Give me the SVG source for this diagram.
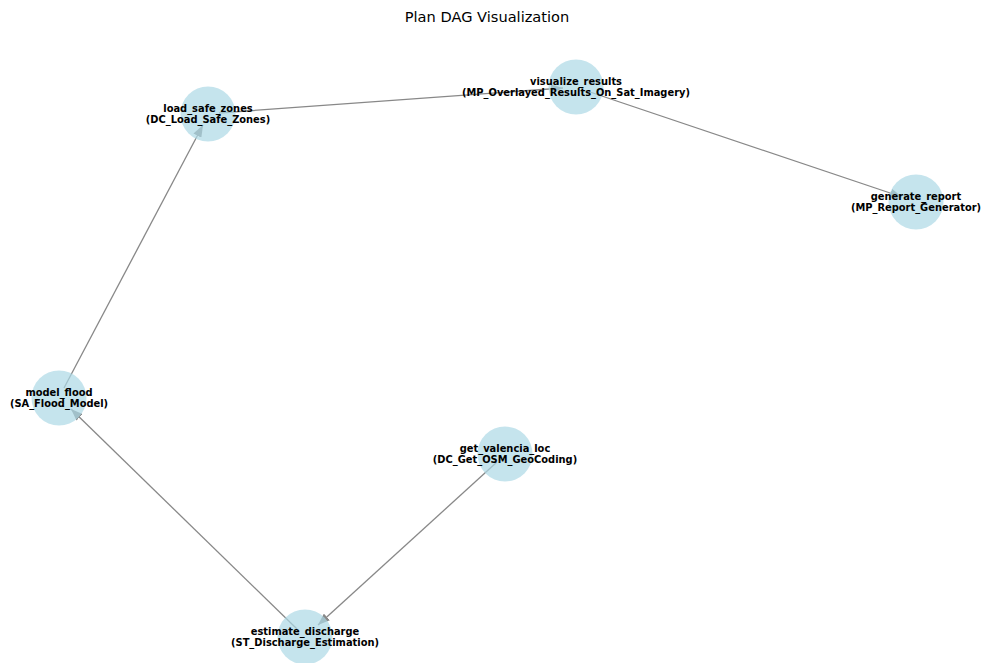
<svg xmlns="http://www.w3.org/2000/svg" width="983" height="663" viewBox="0 0 983 663">
  <style>
    .title { font-family: "DejaVu Sans", sans-serif; font-size: 14.6px; fill: #000; }
    .edge { stroke: #888888; stroke-width: 1.3; fill: none; }
    .node circle { fill: #add8e6; fill-opacity: 0.7; }
    .node text { font-family: "DejaVu Sans", sans-serif; font-weight: bold; font-size: 9.9px; fill: #000; text-anchor: middle; }
  </style>
  <defs>
    <marker id="arrow" viewBox="0 0 12 9" refX="12" refY="4.5" markerWidth="12" markerHeight="9" markerUnits="userSpaceOnUse" orient="auto">
      <path d="M0,0 L12,4.5 L0,9 Z" fill="#888888"/>
    </marker>
  </defs>
  <rect width="983" height="663" fill="#fff"/>
  <text class="title" x="487" y="22" text-anchor="middle">Plan DAG Visualization</text>

  <g id="edges">
    <!-- get_valencia_loc -> estimate_discharge -->
    <line class="edge" x1="497" y1="462" x2="318" y2="625" marker-end="url(#arrow)"/>
    <!-- estimate_discharge -> model_flood -->
    <line class="edge" x1="297" y1="629" x2="71" y2="409" marker-end="url(#arrow)"/>
    <!-- model_flood -> load_safe_zones -->
    <line class="edge" x1="64" y1="388" x2="203" y2="125" marker-end="url(#arrow)"/>
    <!-- load_safe_zones -> visualize_results -->
    <line class="edge" x1="219" y1="113" x2="563" y2="88" marker-end="url(#arrow)"/>
    <!-- visualize_results -> generate_report -->
    <line class="edge" x1="587" y1="91" x2="902" y2="197" marker-end="url(#arrow)"/>
  </g>

  <g id="load_safe_zones" class="node">
    <circle cx="208" cy="114" r="27.5"/>
    <text x="208" y="112">load_safe_zones</text>
    <text x="208" y="122.5">(DC_Load_Safe_Zones)</text>
  </g>
  <g id="visualize_results" class="node">
    <circle cx="576" cy="87" r="27.5"/>
    <text x="576" y="85">visualize_results</text>
    <text x="576" y="95.5">(MP_Overlayed_Results_On_Sat_Imagery)</text>
  </g>
  <g id="generate_report" class="node">
    <circle cx="916" cy="202" r="27.5"/>
    <text x="916" y="200">generate_report</text>
    <text x="916" y="210.5">(MP_Report_Generator)</text>
  </g>
  <g id="model_flood" class="node">
    <circle cx="59" cy="398" r="27.5"/>
    <text x="59" y="396">model_flood</text>
    <text x="59" y="406.5">(SA_Flood_Model)</text>
  </g>
  <g id="get_valencia_loc" class="node">
    <circle cx="505" cy="454" r="27.5"/>
    <text x="505" y="452">get_valencia_loc</text>
    <text x="505" y="462.5">(DC_Get_OSM_GeoCoding)</text>
  </g>
  <g id="estimate_discharge" class="node">
    <circle cx="305" cy="637" r="27.5"/>
    <text x="305" y="635">estimate_discharge</text>
    <text x="305" y="645.5">(ST_Discharge_Estimation)</text>
  </g>
</svg>
